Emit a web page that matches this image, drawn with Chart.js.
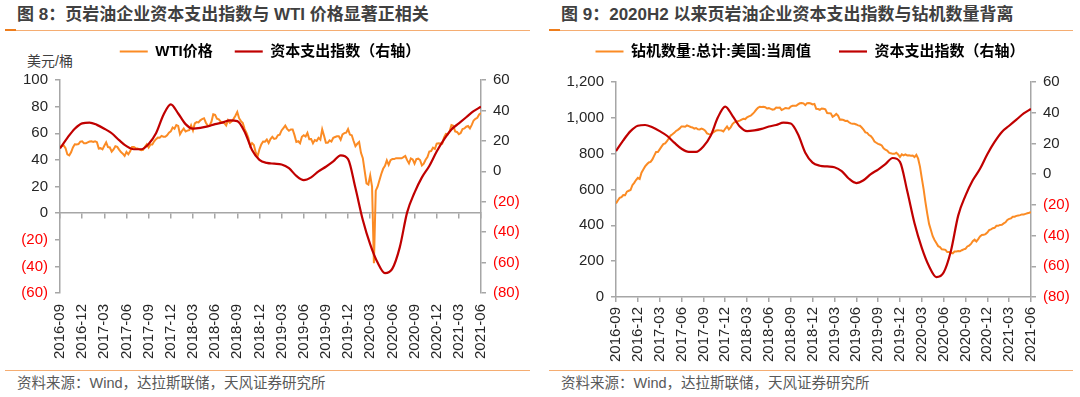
<!DOCTYPE html>
<html>
<head>
<meta charset="utf-8">
<script src="https://cdn.jsdelivr.net/npm/chart.js@4.4.0/dist/chart.umd.min.js"></script>
<style>
    body { margin: 0; width: 1080px; height: 397px; background: #fff; position: relative; overflow: hidden;
           font-family: "Liberation Sans", "Noto Sans CJK SC", sans-serif; }
    .title { position: absolute; top: 5px; font-size: 17px; line-height: 20px; font-weight: bold; color: #404040; white-space: nowrap; }
    .rule { position: absolute; height: 1px; background: #f5ad72; }
    .rule-head { position: absolute; height: 2px; width: 11px; background: #ee7d1c; }
    .unit { position: absolute; left: 27px; top: 53px; font-size: 14px; line-height: 16px; color: #404040; }
    .source { position: absolute; top: 374px; font-size: 14.5px; line-height: 18px; color: #595959; white-space: nowrap; }
    .box { position: absolute; width: 540px; }
</style>
</head>
<body>

<div class="title" style="left:17px">图 8：页岩油企业资本支出指数与 WTI 价格显著正相关</div>
<div class="title" style="left:561px">图 9：2020H2 以来页岩油企业资本支出指数与钻机数量背离</div>
<div class="rule" style="left:5px; width:525px; top:30px"></div>
<div class="rule-head" style="left:5px; top:29px"></div>
<div class="rule" style="left:549px; width:524px; top:30px"></div>
<div class="rule-head" style="left:549px; top:29px"></div>
<div class="unit">美元/桶</div>

<div class="box" style="left:0; top:22px; height:338px"><canvas id="chartWti"></canvas></div>
<div class="box" style="left:540px; top:16px; height:350px"><canvas id="chartRig"></canvas></div>

<div class="rule" style="left:5px; width:525px; top:370px"></div>
<div class="rule" style="left:549px; width:524px; top:370px"></div>
<div class="source" style="left:17px">资料来源：Wind，达拉斯联储，天风证券研究所</div>
<div class="source" style="left:561px">资料来源：Wind，达拉斯联储，天风证券研究所</div>

<script>
// Подписи оси X (раз в квартал), x = номер месяца от 2016-09
const quarterLabels = ['2016-09', '2016-12', '2017-03', '2017-06', '2017-09', '2017-12', '2018-03', '2018-06', '2018-09', '2018-12',
                       '2019-03', '2019-06', '2019-09', '2019-12', '2020-03', '2020-06', '2020-09', '2020-12', '2021-03', '2021-06'];

// WTI, 4 точки в месяц
const wtiPrice = [
    49.8, 50.4, 50.9, 48.7,  44.1, 43.4, 45.7, 49.4,  51.7, 51.5, 51.9, 53.7,
    53.9, 52.4, 52.4, 53.2,  53.8, 53.9, 53.4, 54.0,  53.3, 48.5, 48.8, 47.9,
    50.6, 53.1, 49.6, 49.3,  46.2, 47.8, 50.3, 49.8,  47.7, 45.8, 44.7, 43.0,
    46.0, 44.2, 46.5, 49.7,  49.6, 48.8, 48.5, 47.9,  47.3, 47.5, 49.9, 51.7,
    49.3, 51.5, 51.5, 53.9,  55.6, 56.7, 56.6, 58.0,  57.4, 57.3, 58.5, 60.4,
    61.4, 64.3, 63.4, 66.1,  65.5, 59.2, 61.7, 63.5,  61.3, 62.0, 62.3, 65.9,
    62.1, 67.4, 68.4, 68.1,  69.7, 70.7, 71.3, 67.9,  65.8, 65.7, 68.6, 74.2,
    73.8, 71.0, 70.5, 68.7,  68.5, 67.6, 65.9, 69.8,  67.8, 68.9, 70.8, 73.2,
    76.0, 71.3, 69.1, 67.6,  63.1, 60.2, 56.5, 50.4,  52.6, 51.2, 45.6, 42.5,
    47.9, 51.6, 53.8, 53.7,  55.3, 52.7, 55.6, 57.3,  55.8, 56.1, 58.5, 59.0,
    62.1, 63.9, 65.7, 63.3,  61.9, 62.8, 62.8, 58.6,  53.5, 54.0, 52.5, 57.4,
    58.5, 57.5, 60.2, 55.6,  55.7, 52.5, 54.9, 54.2,  56.5, 55.1, 62.9, 58.1,
    52.8, 52.8, 54.7, 53.8,  56.6, 57.2, 57.7, 57.8,  55.2, 59.2, 60.1, 60.4,
    63.1, 59.0, 58.5, 54.2,  50.3, 52.1, 53.4, 45.3,  41.3, 31.7, 22.4, 21.5,
    28.3, 19.9, -37.6, 16.9, 19.8, 24.7, 29.4, 33.3,  35.5, 39.6, 36.3, 39.8,
    40.6, 40.6, 41.3, 41.3,  41.2, 41.2, 42.0, 42.9,  39.8, 37.3, 41.1, 40.3,
    37.1, 40.6, 40.9, 39.9,  35.8, 37.1, 40.1, 42.2,  46.3, 46.6, 49.1, 48.2,
    52.2, 52.4, 52.3, 52.2,  56.9, 59.5, 59.2, 61.5,  66.1, 65.6, 61.4, 61.0,
    59.3, 60.2, 63.1, 63.6,  64.9, 65.4, 63.6, 66.3,  69.6, 70.9, 71.6, 74.1,
    75.2
];

// Буровые установки США, 4 точки в месяц
const rigCount = [
    522, 539, 553, 557,  569, 568, 588, 593,  597, 624, 637, 653,
    665, 659, 694, 712,  729, 741, 751, 754,  768, 789, 809, 809,
    824, 839, 853, 857,  870, 885, 901, 908,  916, 927, 933, 941,
    952, 952, 950, 958,  954, 949, 946, 940,  943, 936, 935, 940,
    936, 928, 913, 909,  907, 915, 923, 929,  931, 930, 929, 924,
    939, 952, 936, 947,  965, 975, 978, 981,  984, 990, 995, 993,
    1003, 1008, 1012, 1021,  1032, 1045, 1056, 1062,  1061, 1062, 1059, 1052,
    1054, 1050, 1046, 1048,  1057, 1056, 1057, 1044,  1048, 1055, 1053, 1052,
    1063, 1067, 1068, 1067,  1075, 1081, 1083, 1081,  1071, 1082, 1083, 1080,
    1075, 1078, 1050, 1049,  1045, 1052, 1051, 1047,  1027, 1026, 1025, 1006,
    1012, 1022, 1012, 990,  991, 988, 983, 984,  975, 969, 967, 967,
    963, 958, 956, 946,  934, 919, 916, 904,  898, 886, 868, 861,
    855, 851, 846, 830,  822, 817, 806, 802,  799, 799, 805, 796,
    781, 796, 790, 796,  790, 791, 789, 790,  781, 793, 772, 728,
    664, 602, 529, 465,  408, 374, 339, 318,  301, 284, 279, 266,
    265, 263, 251, 251,  247, 244, 254, 254,  256, 255, 261, 266,
    269, 282, 287, 296,  312, 320, 310, 323,  338, 346, 347, 351,
    360, 373, 378, 384,  386, 397, 397, 402,  403, 411, 417, 430,
    436, 439, 448, 448,  453, 455, 457, 461,  461, 464, 467, 470,
    474
];

// Индекс капвложений (правая ось), 1 точка в месяц
const capexIndex = [
    15, 22, 28, 31.5, 32, 30.5, 28, 25, 20.5, 16.5,
    14.5, 14.5, 18, 25, 37, 44, 38, 31, 28, 28.5,
    29.5, 31, 32, 33.5, 33, 26, 14, 7.5, 5.5, 5,
    4.5, 2, -3, -5.8, -4, 0, 3, 6.5, 10.5, 8,
    -11, -32, -48, -60, -67, -64, -50, -27, -14, -4,
    3.5, 13, 21, 27.5, 31.5, 35.5, 39.5, 42.5
];

const weekStep = 0.25;
const monthStep = 1;

const orangeColor = '#fb8b24';
const redColor = '#c00000';
const axisColor = '#a6a6a6';
const textColor = '#262626';

Chart.defaults.font.family = '"Liberation Sans", "Noto Sans CJK SC", sans-serif';
Chart.defaults.font.size = 15;

InitWtiChart();
InitRigChart();

function ToPoints(values, step)
{
    return values.map((v, i) => ({ x: i * step, y: v }));
}

function QuarterTicks(scale)
{
    scale.ticks = quarterLabels.map((label, i) => ({ value: i * 3 }));
}

function QuarterLabel(value)
{
    return quarterLabels[Math.round(value / 3)];
}

function Bracket(value)
{
    return value < 0 ? '(' + (-value) + ')' : value; // отрицательные в скобках
}

function TickColor(ctx)
{
    return ctx.tick && ctx.tick.value < 0 ? '#ff0000' : textColor;
}

function LegendGap(gap)
{
    return {
        id: 'legendGap',
        beforeInit(chart)
        {
            let fit = chart.legend.fit;

            chart.legend.fit = function ()
            {
                fit.bind(chart.legend)();
                this.height += gap;
            };
        }
    };
}

function LegendOptions(padding)
{
    return {
        position: 'top',
        labels: {
            usePointStyle: true,
            pointStyle: 'line',
            pointStyleWidth: 28,
            padding: padding,
            color: '#000',
            font: { size: 15, weight: 'bold' },
            sort: (a, b) => a.datasetIndex - b.datasetIndex
        }
    };
}

function YAxis(min, max, position, width, callback)
{
    return {
        type: 'linear',
        position: position,
        min: min,
        max: max,
        afterFit: (scale) => { scale.width = width; },
        grid: { drawOnChartArea: false, drawTicks: true, tickLength: 5, color: axisColor, lineWidth: 1.5 },
        border: { display: true, color: axisColor, width: 1.5 },
        ticks: { stepSize: 20, padding: 7, color: TickColor, callback: callback }
    };
}

function InitWtiChart()
{
    let chart = document.getElementById('chartWti');

    new Chart(chart, {
        type: 'line',
        data: {
            datasets: [
                {
                    label: 'WTI价格',
                    data: ToPoints(wtiPrice, weekStep),
                    borderColor: orangeColor,
                    borderWidth: 2,
                    pointRadius: 0,
                    tension: 0,
                    yAxisID: 'y',
                    order: 1
                },
                {
                    label: '资本支出指数（右轴）',
                    data: ToPoints(capexIndex, monthStep),
                    borderColor: redColor,
                    borderWidth: 2.2,
                    pointRadius: 0,
                    cubicInterpolationMode: 'monotone',
                    yAxisID: 'y1',
                    order: 0
                }
            ]
        },
        options: {
            responsive: true,
            maintainAspectRatio: false,
            animation: false,
            layout: { padding: 0 },
            scales: {
                x: {
                    type: 'linear',
                    min: 0,
                    max: 57,
                    afterBuildTicks: QuarterTicks,
                    afterFit: (scale) => { scale.height = 67; },
                    grid: { display: false, drawTicks: true, tickLength: 8 },
                    border: { display: false },
                    ticks: { autoSkip: false, minRotation: 90, maxRotation: 90, padding: 3, color: textColor, callback: QuarterLabel }
                },
                xz: {
                    type: 'linear',
                    min: 0,
                    max: 57,
                    position: { y: 0 }, // ось X проходит через ноль левой оси
                    afterBuildTicks: QuarterTicks,
                    grid: { drawOnChartArea: false, drawTicks: true, tickLength: 5, color: axisColor, lineWidth: 1.5 },
                    border: { display: true, color: axisColor, width: 1.5 },
                    ticks: { display: false }
                },
                y: YAxis(-60, 100, 'left', 60, Bracket),
                y1: YAxis(-80, 60, 'right', 59, Bracket)
            },
            plugins: {
                legend: LegendOptions(22),
                tooltip: { enabled: false }
            }
        },
        plugins: [LegendGap(11)]
    });
}

function InitRigChart()
{
    let chart = document.getElementById('chartRig');

    let leftAxis = YAxis(0, 1200, 'left', 76, (v) => v.toLocaleString('en-US'));
    leftAxis.ticks.stepSize = 200;

    new Chart(chart, {
        type: 'line',
        data: {
            datasets: [
                {
                    label: '钻机数量:总计:美国:当周值',
                    data: ToPoints(rigCount, weekStep),
                    borderColor: orangeColor,
                    borderWidth: 2,
                    pointRadius: 0,
                    tension: 0,
                    yAxisID: 'y',
                    order: 1
                },
                {
                    label: '资本支出指数（右轴）',
                    data: ToPoints(capexIndex, monthStep),
                    borderColor: redColor,
                    borderWidth: 2.2,
                    pointRadius: 0,
                    cubicInterpolationMode: 'monotone',
                    yAxisID: 'y1',
                    order: 0
                }
            ]
        },
        options: {
            responsive: true,
            maintainAspectRatio: false,
            animation: false,
            layout: { padding: 0 },
            scales: {
                x: {
                    type: 'linear',
                    min: 0,
                    max: 57,
                    afterBuildTicks: QuarterTicks,
                    afterFit: (scale) => { scale.height = 69; },
                    grid: { drawOnChartArea: false, drawTicks: true, tickLength: 5, color: axisColor, lineWidth: 1.5 },
                    border: { display: true, color: axisColor, width: 1.5 },
                    ticks: { autoSkip: false, minRotation: 90, maxRotation: 90, padding: 5, color: textColor, callback: QuarterLabel }
                },
                y: leftAxis,
                y1: YAxis(-80, 60, 'right', 49, Bracket)
            },
            plugins: {
                legend: LegendOptions(28),
                tooltip: { enabled: false }
            }
        },
        plugins: [LegendGap(13)]
    });
}
</script>
</body>
</html>
